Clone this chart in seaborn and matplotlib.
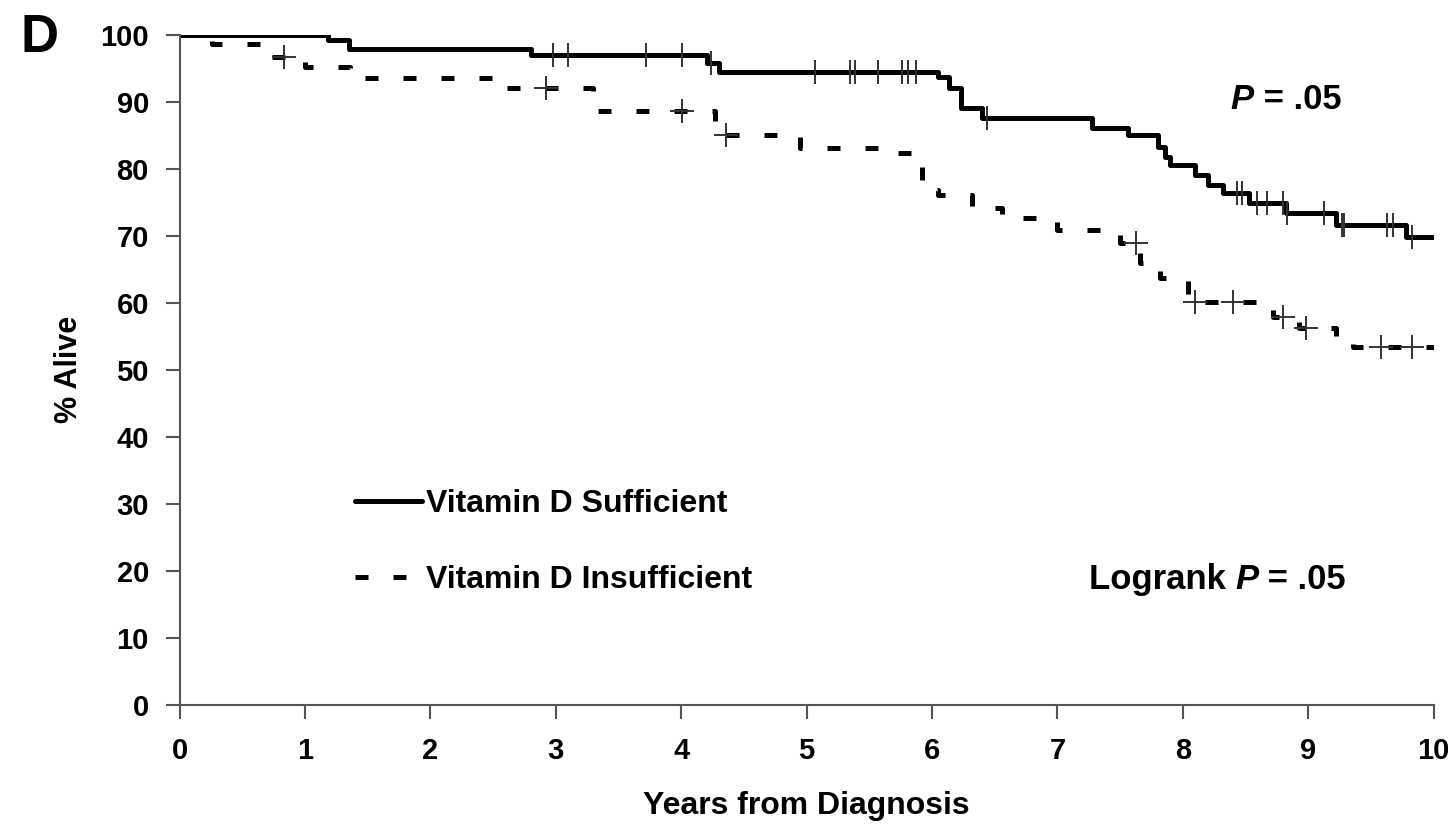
import numpy as np
import pandas as pd
import matplotlib
matplotlib.use("Agg")
import matplotlib.pyplot as plt
import seaborn as sns

# ---- data ----
suff_t = [0, 1.18, 1.35, 2.80, 4.21, 4.30, 6.05, 6.14, 6.23, 6.40, 7.28, 7.56, 7.80, 7.86,
          7.90, 8.10, 8.20, 8.32, 8.53, 8.82, 9.22, 9.78, 10.0]
suff_s = [100, 99.2, 97.9, 97.0, 95.8, 94.5, 93.7, 92.1, 89.1, 87.6, 86.1, 85.1, 83.3, 81.8,
          80.6, 79.1, 77.6, 76.4, 74.9, 73.4, 71.6, 69.9, 69.9]
suff_cens = [2.98, 3.10, 3.72, 4.01, 4.24, 5.07, 5.35, 5.39, 5.57, 5.76, 5.81, 5.87, 6.44,
             8.43, 8.47, 8.59, 8.67, 8.80, 8.83, 9.13, 9.27, 9.29, 9.63, 9.68, 9.83]

insuff_t = [0, 0.26, 0.70, 1.00, 1.36, 2.60, 3.30, 4.27, 4.95, 5.60, 5.85, 5.92, 6.05, 6.32,
            6.56, 7.00, 7.50, 7.66, 7.82, 8.04, 8.72, 8.93, 9.22, 9.36, 10.0]
insuff_s = [100, 98.6, 96.7, 95.2, 93.6, 92.1, 88.7, 85.1, 83.1, 82.4, 81.0, 76.9, 76.1, 74.2,
            72.6, 70.9, 69.0, 66.0, 63.7, 60.1, 57.9, 56.3, 54.5, 53.4, 53.4]
insuff_cens = [0.83, 2.92, 4.01, 4.36, 7.63, 8.10, 8.40, 8.80, 8.98, 9.58, 9.83]

labels = ["Vitamin D Sufficient", "Vitamin D Insufficient"]
x_ticks = list(range(0, 11))
y_ticks = list(range(0, 101, 10))


def step_value(times, surv, at):
    idx = np.searchsorted(np.asarray(times), np.asarray(at), side="right") - 1
    return np.asarray(surv)[idx]


sns.set_style("white")
plt.rcParams["font.family"] = ["Liberation Sans", "DejaVu Sans"]
plt.rcParams["font.weight"] = "bold"
for key in ["text.color", "axes.labelcolor", "xtick.labelcolor", "ytick.labelcolor"]:
    plt.rcParams[key] = "black"

fig = plt.figure(figsize=(14.48, 8.31), dpi=100)
ax = fig.add_axes([0.124, 0.152, 0.866, 0.806])

df_s = pd.DataFrame({"t": suff_t, "s": suff_s})
df_i = pd.DataFrame({"t": insuff_t, "s": insuff_s})

sns.lineplot(data=df_s, x="t", y="s", ax=ax, drawstyle="steps-post", estimator=None,
             sort=False, color="black", linewidth=3.6, label=labels[0])
sns.lineplot(data=df_i, x="t", y="s", ax=ax, drawstyle="steps-post", estimator=None,
             sort=False, color="black", linewidth=3.6, linestyle=(0, (2.6, 5.0)),
             label=labels[1])

cs = pd.DataFrame({"t": suff_cens, "s": step_value(suff_t, suff_s, suff_cens)})
ci = pd.DataFrame({"t": insuff_cens, "s": step_value(insuff_t, insuff_s, insuff_cens)})
sns.scatterplot(data=cs, x="t", y="s", ax=ax, marker="|", s=280, color="#333333",
                linewidth=1.4, legend=False, zorder=3)
sns.scatterplot(data=ci, x="t", y="s", ax=ax, marker="+", s=300, color="#333333",
                linewidth=1.4, legend=False, zorder=3)

ax.set_xlim(0, 10)
ax.set_ylim(0, 100)
ax.set_xticks(x_ticks)
ax.set_yticks(y_ticks)
ax.tick_params(axis="both", which="major", labelsize=21, length=10, width=1.5,
               color="#555555", direction="out", pad=12, bottom=True, left=True)
ax.tick_params(axis="x", pad=13)
for lab in ax.get_xticklabels() + ax.get_yticklabels():
    lab.set_fontweight("bold")
for side in ["top", "right"]:
    ax.spines[side].set_visible(False)
for side in ["left", "bottom"]:
    ax.spines[side].set_color("#555555")
    ax.spines[side].set_linewidth(1.5)

ax.set_xlabel("Years from Diagnosis", fontsize=23, fontweight="bold", labelpad=19)
ax.set_ylabel("% Alive", fontsize=22, fontweight="bold", labelpad=12)

leg = ax.legend(loc="upper left", bbox_to_anchor=(0.14, 0.322), frameon=False,
                fontsize=23, handlelength=2.1, handletextpad=0.12, labelspacing=1.45,
                borderpad=0, borderaxespad=0)
for txt in leg.get_texts():
    txt.set_fontweight("bold")

t1 = ax.text(8.38, 90.3, "P", fontsize=25, fontweight="bold", fontstyle="italic",
             va="center", ha="left")
ax.annotate(" = .05", xy=(1, 0.5), xycoords=t1, va="center", ha="left",
            fontsize=25, fontweight="bold")
t2 = ax.text(7.25, 18.7, "Logrank ", fontsize=25, fontweight="bold", va="center", ha="left")
t3 = ax.annotate("P", xy=(1, 0.5), xycoords=t2, va="center", ha="left",
                 fontsize=25, fontweight="bold", fontstyle="italic")
ax.annotate(" = .05", xy=(1, 0.5), xycoords=t3, va="center", ha="left",
            fontsize=25, fontweight="bold")

fig.text(0.014, 0.938, "D", fontsize=38, fontweight="bold", ha="left", va="baseline")

fig.savefig("out.png", dpi=100, facecolor="white")
